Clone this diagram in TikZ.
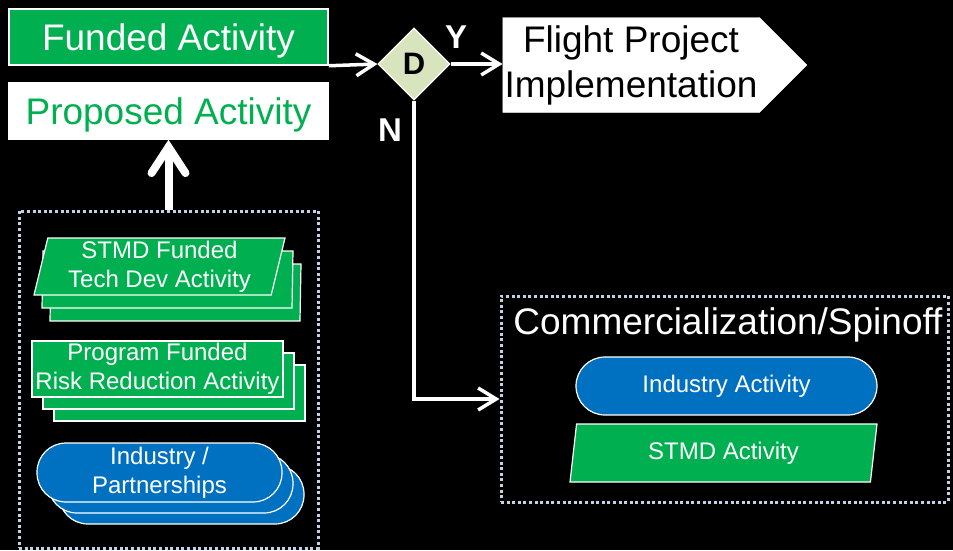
\documentclass[tikz,border=0pt]{standalone}
\usepackage{fontspec}
\setmainfont{Liberation Sans}
\usetikzlibrary{shapes.geometric, shapes.symbols, arrows.meta, positioning}

\definecolor{fundgreen}{HTML}{00B050}
\definecolor{indblue}{HTML}{0070C0}
\definecolor{decgreen}{HTML}{D7E4BD}
\definecolor{dotblue}{HTML}{C2D1E8}
\newcommand{\fsz}[2]{\fontsize{#1}{#2}\selectfont}

\tikzset{
  bigbox/.style={rectangle, draw=white, line width=1.5pt, minimum width=319pt, minimum height=56pt, inner sep=0pt, text height=26.5pt, text depth=0pt, font=\fsz{37}{44}},
  para/.style={trapezium, trapezium left angle=76, trapezium right angle=104, trapezium stretches body, draw=white, line width=1.2pt, fill=fundgreen, text=white, inner sep=2pt, align=center, font=\fsz{24}{29}},
  plate/.style={rectangle, draw=white, line width=1.2pt, fill=fundgreen, text=white, inner sep=2pt, align=center, font=\fsz{24}{29}, minimum width=251pt, minimum height=56pt},
  pill/.style={rectangle, rounded corners=29pt, draw=white, line width=1.2pt, fill=indblue, text=white, inner sep=2pt, align=center, font=\fsz{24}{29}},
  dotbox/.style={rectangle, draw=dotblue, line width=3pt, dash pattern=on 3pt off 2.6pt, inner sep=0pt},
  link/.style={draw=white, line width=3.5pt, -{Straight Barb[length=18pt, width=22pt]}},
  yesno/.style={text=white, font=\bfseries\fsz{33}{40}}
}

\begin{document}
\begin{tikzpicture}[x=1pt, y=-1pt]
    \useasboundingbox (0,0) rectangle (953,550);
    \fill[black] (0,0) rectangle (953,550);

    % top row
    \node[bigbox, fill=fundgreen, text=white] (funded) at (168.5,37) {Funded Activity};
    \node[bigbox, fill=white, text=fundgreen] (proposed) at (168.5,111) {Proposed Activity};
    \node[diamond, fill=decgreen, draw=white, line width=1.2pt, minimum width=72pt, minimum height=72pt, inner sep=0pt, font=\bfseries\fsz{31}{37}] (d) at (414,64) {D};
    \node[signal, signal to=east, signal pointer angle=90, fill=white, draw=white, minimum width=304pt, minimum height=95pt, inner sep=0pt, align=center, font=\fsz{37}{45}] (flight) at (631,65) {Flight Project\\Implementation};
    \node[yesno] (yes) at (456,37) {Y};
    \node[yesno] (no) at (390,130) {N};

    % left group
    \node[dotbox, minimum width=299pt, minimum height=337pt] (feeders) at (168.5,379.5) {};
    \coordinate (tech) at (159.5,266.5);
    \node[para, minimum width=251pt, minimum height=57pt] (tech3) at ([shift={(16,26)}]tech) {};
    \node[para, minimum width=251pt, minimum height=57pt] (tech2) at ([shift={(8,13)}]tech) {};
    \node[para, minimum width=251pt, minimum height=57pt] (tech1) at (tech) {STMD Funded\\Tech Dev Activity};
    \coordinate (risk) at (157.5,369);
    \node[plate] (risk3) at ([shift={(22,24)}]risk) {};
    \node[plate] (risk2) at ([shift={(11,12)}]risk) {};
    \node[plate] (risk1) at (risk) {Program Funded\\Risk Reduction Activity};
    \coordinate (partner) at (159.5,472.5);
    \node[pill, minimum width=245pt, minimum height=59pt] (partner3) at ([shift={(22,22)}]partner) {};
    \node[pill, minimum width=245pt, minimum height=59pt] (partner2) at ([shift={(11,11)}]partner) {};
    \node[pill, minimum width=245pt, minimum height=59pt] (partner1) at (partner) {Industry /\\Partnerships};

    % right group
    \node[dotbox, minimum width=447pt, minimum height=206pt] (comm) at (724.5,399) {};
    \node[text=white, font=\fsz{37}{44}] (commtitle) at (728,325) {Commercialization/Spinoff};
    \node[pill, minimum width=301pt, minimum height=58pt] (indact) at (726.5,386) {Industry Activity};
    \node[para, minimum width=307pt, minimum height=58pt] (stmdact) at (723.5,453) {STMD Activity};

    % connectors
    \draw[link] (funded.south east) -- (d.west);
    \draw[link] (d.east) -- (d.east -| flight.west);
    \draw[link] (d.south) |- (comm.west);
    \draw[draw=white, line width=8pt, -{Straight Barb[length=26pt, width=34pt, line cap=round]}] (feeders.north) -- (proposed.south);
\end{tikzpicture}
\end{document}
